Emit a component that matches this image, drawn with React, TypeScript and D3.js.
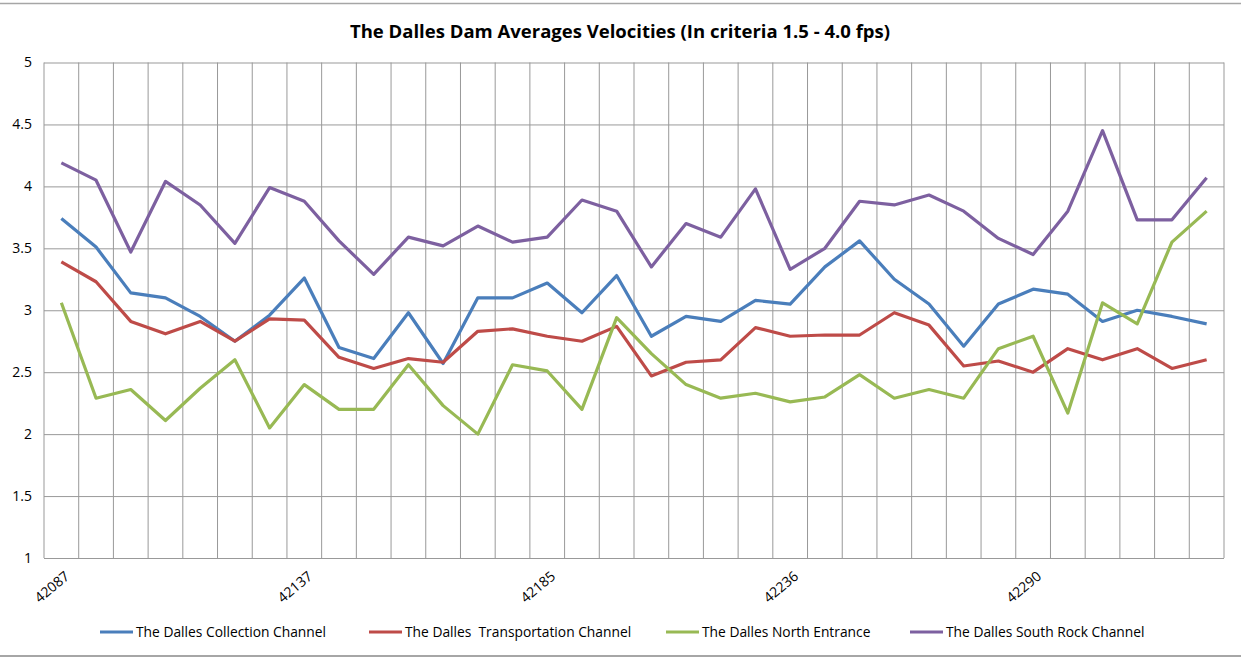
import React, { useEffect, useRef } from "react";
import * as d3 from "d3";

// x categories (34 sample points); only every 7th is labelled on the axis
const tickIndexes = [0, 7, 14, 21, 28];
const tickLabels = ["42087", "42137", "42185", "42236", "42290"];
const pointCount = 34;

const seriesNames = [
  "The Dalles Collection Channel",
  "The Dalles  Transportation Channel",
  "The Dalles North Entrance",
  "The Dalles South Rock Channel",
];
const seriesColors = ["#4A7EBB", "#BE4B48", "#98B954", "#7D60A0"];

const collection = [
  3.74, 3.51, 3.14, 3.1, 2.95, 2.75, 2.96, 3.26, 2.7, 2.61, 2.98, 2.57, 3.1, 3.1, 3.22, 2.98, 3.28,
  2.79, 2.95, 2.91, 3.08, 3.05, 3.35, 3.56, 3.25, 3.05, 2.71, 3.05, 3.17, 3.13, 2.91, 3.0, 2.95, 2.89,
];
const transportation = [
  3.39, 3.23, 2.91, 2.81, 2.91, 2.75, 2.93, 2.92, 2.62, 2.53, 2.61, 2.58, 2.83, 2.85, 2.79, 2.75, 2.87,
  2.47, 2.58, 2.6, 2.86, 2.79, 2.8, 2.8, 2.98, 2.88, 2.55, 2.59, 2.5, 2.69, 2.6, 2.69, 2.53, 2.6,
];
const northEntrance = [
  3.06, 2.29, 2.36, 2.11, 2.37, 2.6, 2.05, 2.4, 2.2, 2.2, 2.56, 2.23, 2.0, 2.56, 2.51, 2.2, 2.94,
  2.65, 2.4, 2.29, 2.33, 2.26, 2.3, 2.48, 2.29, 2.36, 2.29, 2.69, 2.79, 2.17, 3.06, 2.89, 3.55, 3.8,
];
const southRock = [
  4.19, 4.05, 3.47, 4.04, 3.85, 3.54, 3.99, 3.88, 3.56, 3.29, 3.59, 3.52, 3.68, 3.55, 3.59, 3.89, 3.8,
  3.35, 3.7, 3.59, 3.98, 3.33, 3.5, 3.88, 3.85, 3.93, 3.8, 3.58, 3.45, 3.8, 4.45, 3.73, 3.73, 4.07,
];
const yTicks = [1, 1.5, 2, 2.5, 3, 3.5, 4, 4.5, 5];

const FONT = "'Open Sans', 'Noto Sans', sans-serif";

export default function App() {
  const ref = useRef<SVGSVGElement>(null);

  useEffect(() => {
    const width = 1241;
    const height = 658;
    const margin = { top: 62.5, right: 17, bottom: 100, left: 44 };
    const innerWidth = width - margin.left - margin.right;
    const innerHeight = height - margin.top - margin.bottom;

    const svg = d3.select(ref.current);
    svg.selectAll("*").remove();

    // chart area border lines
    svg.append("line").attr("x1", 0).attr("x2", width).attr("y1", 3.5).attr("y2", 3.5)
      .attr("stroke", "#a6a6a6").attr("stroke-width", 1.5);
    svg.append("line").attr("x1", 0).attr("x2", width).attr("y1", 656).attr("y2", 656)
      .attr("stroke", "#a6a6a6").attr("stroke-width", 2);

    svg.append("text").attr("x", 620).attr("y", 38).attr("text-anchor", "middle")
      .style("font-family", FONT).style("font-size", "18.5px").style("font-weight", "bold")
      .text("The Dalles Dam Averages Velocities (In criteria 1.5 - 4.0 fps)");

    const g = svg.append("g").attr("transform", `translate(${margin.left}, ${margin.top})`);

    const idx = d3.range(pointCount);
    const xScale = d3.scaleBand<number>().domain(idx).range([0, innerWidth]);
    const yScale = d3.scaleLinear().domain([1, 5]).range([innerHeight, 0]);

    // vertical gridlines at band edges
    g.selectAll(".vgrid").data(d3.range(pointCount + 1)).join("line").attr("class", "vgrid")
      .attr("x1", d => d * xScale.step()).attr("x2", d => d * xScale.step())
      .attr("y1", 0).attr("y2", innerHeight)
      .attr("stroke", "#999999").attr("stroke-width", 1);

    const yAxis = d3.axisLeft(yScale).tickValues(yTicks).tickSize(-innerWidth).tickPadding(12)
      .tickFormat(d => String(d));
    const yg = g.append("g").call(yAxis);
    yg.select(".domain").remove();
    yg.selectAll(".tick line").attr("stroke", "#999999");
    yg.selectAll(".tick text").style("font-family", FONT).style("font-size", "14px").attr("fill", "#000");

    // x labels
    g.selectAll(".xlab").data(tickIndexes).join("text").attr("class", "xlab")
      .attr("transform", d => `translate(${(xScale(d) as number) + xScale.bandwidth() / 2 + 6}, ${innerHeight + 16}) rotate(-40)`)
      .attr("text-anchor", "end").attr("dy", "0.35em")
      .style("font-family", FONT).style("font-size", "14px")
      .text((d, i) => tickLabels[i]);

    const allSeries = [collection, transportation, northEntrance, southRock];
    const line = d3.line<number>()
      .x((d, i) => (xScale(i) as number) + xScale.bandwidth() / 2)
      .y(d => yScale(d));

    g.selectAll(".series").data(allSeries).join("path").attr("class", "series")
      .attr("d", d => line(d)).attr("fill", "none")
      .attr("stroke", (d, i) => seriesColors[i]).attr("stroke-width", 3.2)
      .attr("stroke-linejoin", "round");

    // legend
    const legendX = [100, 369, 666, 910];
    const lg = svg.append("g").attr("transform", "translate(0, 632)");
    seriesNames.forEach((name, i) => {
      lg.append("line").attr("x1", legendX[i]).attr("x2", legendX[i] + 33).attr("y1", 0).attr("y2", 0)
        .attr("stroke", seriesColors[i]).attr("stroke-width", 3);
      lg.append("text").attr("x", legendX[i] + 36).attr("y", 0).attr("dy", "0.35em")
        .style("font-family", FONT).style("font-size", "13.8px").style("white-space", "pre")
        .attr("xml:space", "preserve")
        .text(name);
    });
  }, []);

  return (
    <svg ref={ref} width={1241} height={658} style={{ position: "absolute", left: 0, top: 0 }} />
  );
}
